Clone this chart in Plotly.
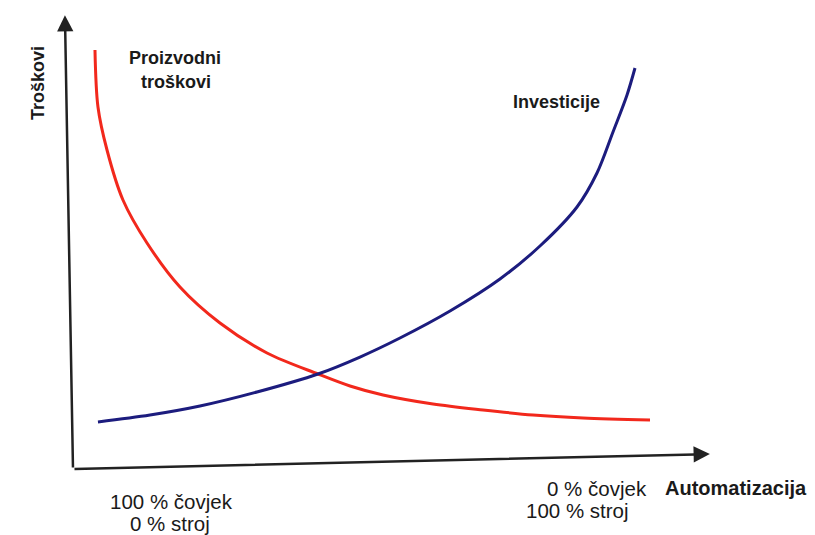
import plotly.graph_objects as go

# Data (automation % on x, cost in arbitrary units on y)
red_x = [-0.18, 0.36, 1.99, 4.87, 9.21, 15.16, 22.38, 30.87, 40.07, 45.85, 51.81,
         60.83, 69.86, 78.88, 87.91, 100]
red_y = [98.81, 85.24, 75.0, 63.10, 52.86, 42.38, 33.81, 26.67, 21.67, 18.81, 16.67,
         14.52, 13.10, 11.90, 11.19, 10.71]
blue_x = [0.36, 9.75, 18.77, 29.06, 40.07, 47.65, 54.87, 63.90, 72.92, 80.14, 86.82,
          90.43, 93.32, 95.85, 97.29]
blue_y = [10.24, 11.90, 14.05, 17.38, 21.67, 25.71, 30.24, 36.67, 44.29, 52.14, 61.43,
          69.52, 79.29, 88.10, 94.52]

# page body has an 8px margin
OFF = 8
W, H = 815 - OFF, 535 - OFF
X0, X1 = -15.88, 129.78
Y0, Y1 = -16.67, 108.81

def px(sx):
    return (sx - OFF) / W

def py(sy):
    return 1 - (sy - OFF) / H

fig = go.Figure()
fig.add_trace(go.Scatter(x=red_x, y=red_y, mode="lines",
                         line=dict(color="#f2281c", width=3, shape="spline", smoothing=0.9),
                         hoverinfo="skip", showlegend=False))
fig.add_trace(go.Scatter(x=blue_x, y=blue_y, mode="lines",
                         line=dict(color="#1c1c7e", width=3, shape="spline", smoothing=0.9),
                         hoverinfo="skip", showlegend=False))

axis_col = "#222222"
fig.add_annotation(x=-5.6, y=107.1, ax=-4.15, ay=-0.95, xref="x", yref="y", axref="x", ayref="y",
                   showarrow=True, arrowhead=2, arrowsize=1.3, arrowwidth=2.5, arrowcolor=axis_col, text="")
fig.add_annotation(x=110.8, y=2.6, ax=-4.15, ay=-0.95, xref="x", yref="y", axref="x", ayref="y",
                   showarrow=True, arrowhead=2, arrowsize=1.3, arrowwidth=2.5, arrowcolor=axis_col, text="")

FAM = "Liberation Sans, Arial, sans-serif"
font_b = dict(family=FAM, size=18, color="#1a1a1a")
font_b2 = dict(family=FAM, size=20, color="#1a1a1a")
font_r = dict(family=FAM, size=20.5, color="#1a1a1a")

def label(text, x, y, font, angle=0):
    fig.add_annotation(x=px(x), y=py(y), xref="paper", yref="paper", text=text, showarrow=False,
                       font=font, textangle=angle, xanchor="center", yanchor="middle", borderpad=0)

label("<b>Troškovi</b>", 38, 83, font_b, angle=-90)
label("<b>Proizvodni</b>", 175, 58, font_b)
label("<b>troškovi</b>", 176, 82, font_b)
label("<b>Investicije</b>", 556, 102, font_b)
label("<b>Automatizacija</b>", 736, 488, font_b2)
label("100 % čovjek", 171, 501, font_r)
label("0 % stroj", 170, 523, font_r)
label("0 % čovjek", 597, 488, font_r)
label("100 % stroj", 577, 510, font_r)

fig.update_layout(
    width=W, height=H, margin=dict(l=0, r=0, t=0, b=0),
    paper_bgcolor="white", plot_bgcolor="white",
    xaxis=dict(range=[X0, X1], visible=False, fixedrange=True),
    yaxis=dict(range=[Y0, Y1], visible=False, fixedrange=True),
)
fig.write_html("out.html")
